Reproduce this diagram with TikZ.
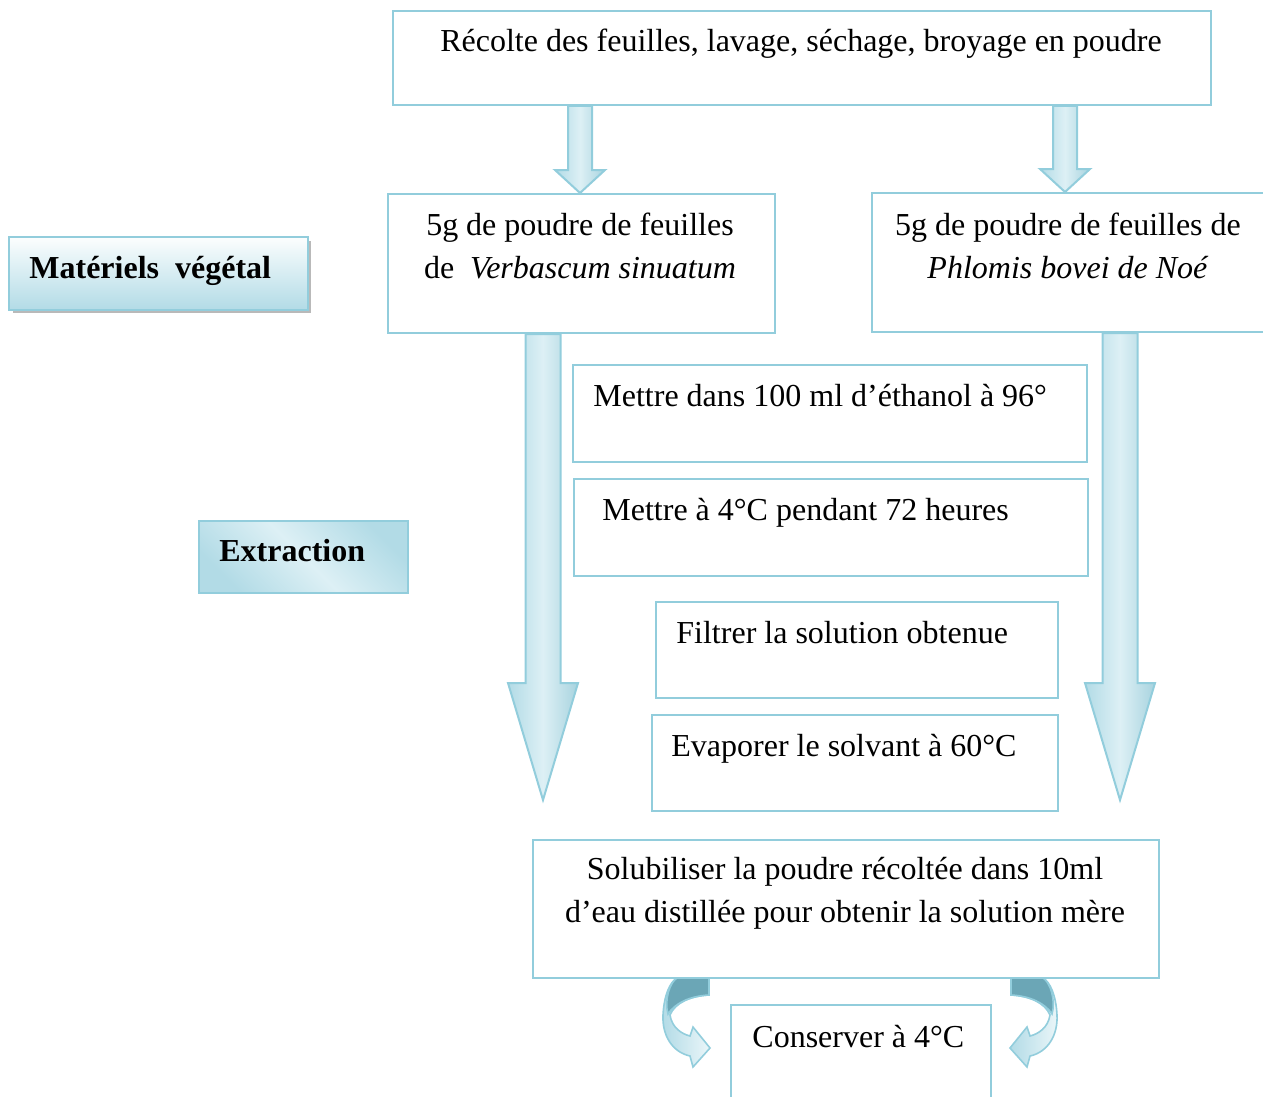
\documentclass[tikz,border=0pt]{standalone}
\usepackage{fontspec}
\setmainfont{Liberation Serif}
\usetikzlibrary{calc}

\definecolor{aqualine}{HTML}{92CDDC}
\definecolor{aqualight}{HTML}{DDF0F5}
\definecolor{aquamid}{HTML}{B2DBE6}
\definecolor{aquadark}{HTML}{6BA6B6}

\tikzset{
  frame/.style={draw=aqualine, line width=1pt, anchor=north west, inner sep=0pt},
  txt/.style={font=\fontsize{16}{21.5}\selectfont, inner sep=0pt},
  blockarrow/.style={draw=aqualine, line width=1pt, left color=aquamid,
    right color=aquamid!85!aquadark, middle color=aqualight},
  curlyarrow/.style={draw=aqualine, line width=0.8pt, left color=aquamid,
    right color=aqualight!60!white}
}

% vertical block arrow: start, tip, half shaft, half head, head length
\newcommand{\blockdown}[5]{%
  \shadedraw[blockarrow] let \p1=(#1), \p2=(#2) in
    (\x1-#3,\y1) -- (\x1+#3,\y1) -- (\x1+#3,\y2+#5) -- (\x1+#4,\y2+#5)
    -- (\x1,\y2) -- (\x1-#4,\y2+#5) -- (\x1-#3,\y2+#5) -- cycle;}

% curved arrow under the last box
\newcommand{\curlyback}{%
  \shadedraw[curlyarrow] (677,978) -- (709,978) -- (709,995)
    .. controls (690,996) and (675,1003) .. (670,1015)
    .. controls (672,1028) and (682,1034) .. (690,1036)
    -- (693,1027) -- (710,1048) -- (693,1067) -- (690,1056)
    .. controls (672,1052) and (662,1035) .. (663,1015)
    .. controls (664,995) and (670,982) .. (677,978) -- cycle;
  \filldraw[draw=aqualine, line width=0.8pt, fill=aquadark]
    (677,978) -- (709,978) -- (709,995)
    .. controls (690,996) and (675,1003) .. (668,1014)
    .. controls (664,1000) and (670,982) .. (677,978) -- cycle;}

\begin{document}
\begin{tikzpicture}[x=0.5pt,y=-0.5pt]
  \useasboundingbox (0,0) rectangle (1263,1097);

  % frames
  \node[frame, minimum width=409pt, minimum height=47pt] (recolte) at (392,10) {};
  \node[frame, minimum width=193.5pt, minimum height=69.5pt] (verba) at (387,193) {};
  \node[frame, minimum width=204pt, minimum height=69.5pt] (phlomis) at (871,192) {};
  \node[frame, minimum width=257pt, minimum height=48.5pt] (ethanol) at (572,364) {};
  \node[frame, minimum width=257pt, minimum height=48.5pt] (froid) at (573,478) {};
  \node[frame, minimum width=201pt, minimum height=48pt] (filtre) at (655,601) {};
  \node[frame, minimum width=203pt, minimum height=48pt] (evap) at (651,714) {};
  \node[frame, minimum width=313pt, minimum height=69pt] (solub) at (532,839) {};
  \node[frame, minimum width=130pt, minimum height=60pt] (conserve) at (730,1004) {};

  % side labels
  \fill[gray!55] (13,241) rectangle (311,313);
  \node[frame, minimum width=149.5pt, minimum height=36.5pt,
    top color=white!90!aqualight, bottom color=aquamid] (materiel) at (8,236) {};
  \node[frame, minimum width=104.5pt, minimum height=36pt,
    top color=aquamid, bottom color=aquamid, middle color=aqualight,
    shading angle=-45] (extraction) at (198,520) {};

  % texts
  \node[txt] (recoltetxt) at (801,44) {Récolte des feuilles, lavage, séchage, broyage en poudre};
  \node[txt, align=center] (verbatxt) at (580,246)
    {5g de poudre de feuilles\\de\ \ \textit{Verbascum sinuatum}};
  \node[txt, align=center] (phlomistxt) at (1068,245.5)
    {5g de poudre de feuilles de\\\textit{Phlomis bovei de Noé}};
  \node[txt, anchor=west] (ethanoltxt) at (593,396) {Mettre dans 100 ml d’éthanol à 96°};
  \node[txt, anchor=west] (froidtxt) at (602,513) {Mettre à 4°C pendant 72 heures};
  \node[txt, anchor=west] (filtretxt) at (676,633) {Filtrer la solution obtenue};
  \node[txt, anchor=west] (evaptxt) at (671,749) {Evaporer le solvant à 60°C};
  \node[txt, align=center] (solubtxt) at (845,893.5)
    {Solubiliser la poudre récoltée dans 10ml\\d’eau distillée pour obtenir la solution mère};
  \node[txt, anchor=west] (conservetxt) at (752,1037) {Conserver à 4°C};
  \node[txt, anchor=west, font=\fontsize{16}{21.5}\selectfont\bfseries] (materieltxt)
    at (29,271) {Matériels\ \ végétal};
  \node[txt, anchor=west, font=\fontsize{16}{21.5}\selectfont\bfseries] (extractiontxt)
    at (219,551) {Extraction};

  % arrows
  \coordinate (a1) at (recolte.south -| 580,0);
  \coordinate (a2) at (recolte.south -| 1065,0);
  \coordinate (b1) at (verba.south -| 543,0);
  \coordinate (b2) at (phlomis.south -| 1120,0);
  \coordinate (a1tip) at (verba.north -| a1);
  \coordinate (a2tip) at (phlomis.north -| a2);
  \coordinate (b1tip) at (543,800);
  \coordinate (b2tip) at (1120,800);

  \blockdown{a1}{a1tip}{6pt}{12.5pt}{11.5pt}
  \blockdown{a2}{a2tip}{6pt}{12.5pt}{11.5pt}
  \blockdown{b1}{b1tip}{8.75pt}{17.5pt}{58.5pt}
  \blockdown{b2}{b2tip}{8.75pt}{17.5pt}{58.5pt}

  \curlyback
  \begin{scope}[shift={(860,0)}, xscale=-1, shift={(-860,0)}]
    \curlyback
  \end{scope}
\end{tikzpicture}
\end{document}
